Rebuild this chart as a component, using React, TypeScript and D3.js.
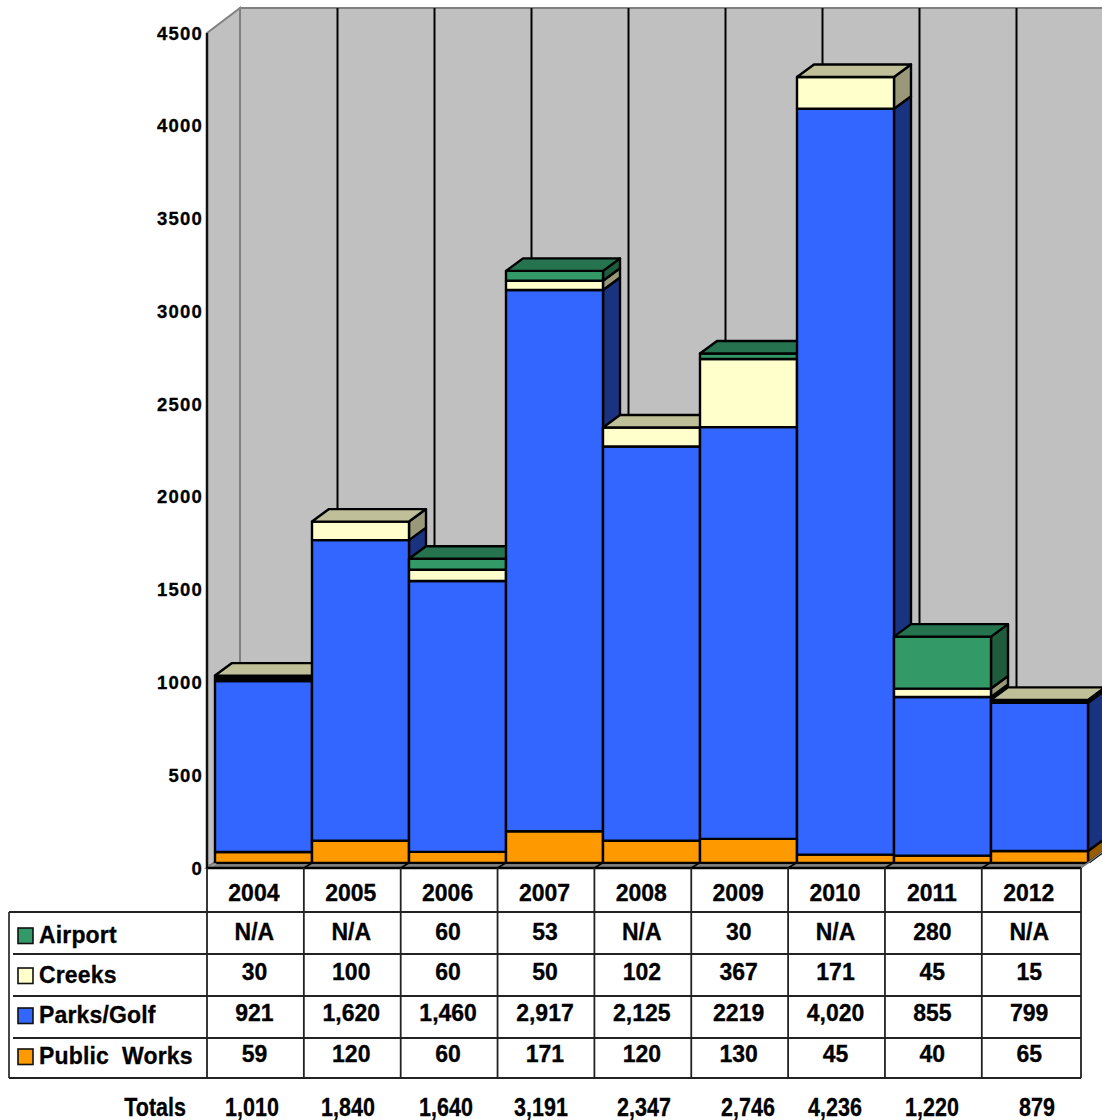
import React from "react";
import * as d3 from "d3";

// Grant spending by program, one stacked column per year.
const years = ["2004", "2005", "2006", "2007", "2008", "2009", "2010", "2011", "2012"];
const publicWorks = [59, 120, 60, 171, 120, 130, 45, 40, 65];
const parksGolf = [921, 1620, 1460, 2917, 2125, 2219, 4020, 855, 799];
const creeks = [30, 100, 60, 50, 102, 367, 171, 45, 15];
const airport = [null, null, 60, 53, null, 30, null, 280, null];
const totals = ["1,010", "1,840", "1,640", "3,191", "2,347", "2,746", "4,236", "1,220", "879"];
const yTicks = [0, 500, 1000, 1500, 2000, 2500, 3000, 3500, 4000, 4500];

const tableRows = [
  { name: "Airport", fill: "#339966", cells: ["N/A", "N/A", "60", "53", "N/A", "30", "N/A", "280", "N/A"] },
  { name: "Creeks", fill: "#FFFFCC", cells: ["30", "100", "60", "50", "102", "367", "171", "45", "15"] },
  { name: "Parks/Golf", fill: "#3366FF", cells: ["921", "1,620", "1,460", "2,917", "2,125", "2219", "4,020", "855", "799"] },
  { name: "Public  Works", fill: "#FF9900", cells: ["59", "120", "60", "171", "120", "130", "45", "40", "65"] },
];

const stackOrder = [
  { values: publicWorks, fill: "#FF9900", side: "#995C00", top: "#BF7300" },
  { values: parksGolf, fill: "#3366FF", side: "#1A3380", top: "#264DBF" },
  { values: creeks, fill: "#FFFFCC", side: "#99997A", top: "#BFBF99" },
  { values: airport, fill: "#339966", side: "#1F5C3D", top: "#267350" },
];

// Slivers this thin render as solid outline.
const solidBelow = 31;
const solidSeries = creeks;

const W = 1102;
const H = 1120;
const frontLeft = 207;
const frontRight = 1081;
const floorY = 868;
const plotTop = 33;
const wallDx = 33;
const wallDy = 25;
const barInsetX = 8;
const barInsetY = 5;
const barDx = 17;
const barDy = 12.5;
const rowLines = [912, 954, 996, 1038, 1078];
const rowBaselines = [940, 980, 1021, 1062];
const legendBaselines = [943, 983, 1023, 1064];
const legendKeys = [928, 968, 1008, 1049];
const totalCenters = [252, 348, 446, 541, 644, 748, 835, 932, 1037];
const font = "'Liberation Sans', Arial, sans-serif";

const yAxis = d3.scaleLinear().domain([0, 4500]).range([floorY, plotTop]);
const barX = d3.scaleBand<string>().domain(years).range([frontLeft + barInsetX, frontLeft + barInsetX + 97 * 9]);
const wallX = d3.scaleBand<string>().domain(years).range([frontLeft + wallDx, frontLeft + wallDx + 97 * 9]);
const colX = d3.scaleLinear().domain([0, 9]).range([frontLeft, frontLeft + 96.85 * 9]);
const barY = (v: number) => yAxis(v) - barInsetY;
const poly = (pts: number[][]) => pts.map((p) => p.join(",")).join(" ");

function Column({ index }: { index: number }) {
  const x0 = barX(years[index]) as number;
  const x1 = x0 + barX.bandwidth();
  let base = 0;
  const segments = stackOrder
    .filter((s) => s.values[index] != null)
    .map((s) => {
      const v = s.values[index] as number;
      const seg = { ...s, y0: barY(base), y1: barY(base + v), v };
      base += v;
      return seg;
    });
  const last = segments[segments.length - 1];
  const line = { stroke: "#000", strokeWidth: 2.4, strokeLinejoin: "round" as const };
  return (
    <g>
      {segments.map((s, i) => {
        const solid = s.values === solidSeries && s.v < solidBelow;
        return (
          <g key={i}>
            <polygon
              points={poly([[x1, s.y0], [x1 + barDx, s.y0 - barDy], [x1 + barDx, s.y1 - barDy], [x1, s.y1]])}
              fill={solid ? "#000" : s.side}
              {...line}
            />
            <rect x={x0} y={s.y1} width={x1 - x0} height={s.y0 - s.y1} fill={solid ? "#000" : s.fill} {...line} />
          </g>
        );
      })}
      <polygon
        points={poly([[x0, last.y1], [x0 + barDx, last.y1 - barDy], [x1 + barDx, last.y1 - barDy], [x1, last.y1]])}
        fill={last.top}
        {...line}
      />
    </g>
  );
}

export default function App() {
  const boldText = { fontFamily: font, fontWeight: 700, fill: "#000", stroke: "#000", strokeWidth: 0.3 };
  return (
    <svg width={W} height={H} viewBox={`0 0 ${W} ${H}`} style={{ position: "absolute", left: 0, top: 0, display: "block" }}>
      <rect width={W} height={H} fill="#fff" />

      {/* walls and floor */}
      <polygon
        points={poly([[frontLeft, plotTop], [frontLeft + wallDx, plotTop - wallDy], [frontLeft + wallDx, floorY - wallDy], [frontLeft, floorY]])}
        fill="#C0C0C0"
        stroke="#808080"
        strokeWidth={2}
      />
      <rect x={frontLeft + wallDx} y={plotTop - wallDy} width={frontRight - frontLeft} height={floorY - plotTop} fill="#C0C0C0" stroke="#808080" strokeWidth={2} />
      <polygon
        points={poly([[frontLeft, floorY], [frontLeft + wallDx, floorY - wallDy], [frontRight + wallDx, floorY - wallDy], [frontRight, floorY]])}
        fill="#808080"
        stroke="#808080"
        strokeWidth={2}
      />
      {years.slice(1).map((y) => {
        const x = wallX(y) as number;
        return <line key={y} x1={x + 0.5} x2={x + 0.5} y1={plotTop - wallDy} y2={floorY - wallDy} stroke="#000" strokeWidth={2} />;
      })}
      <line x1={frontLeft} x2={frontLeft} y1={plotTop} y2={floorY} stroke="#111" strokeWidth={2.5} />

      {years.map((y, i) => (
        <Column key={y} index={i} />
      ))}

      {/* floor strip in front of the columns */}
      <rect x={frontLeft + 1} y={barY(0) + 1.2} width={frontRight - frontLeft} height={floorY - barY(0) - 1.2} fill="#808080" />
      <polygon points={poly([[frontLeft + 1, floorY], [frontLeft + barInsetX, barY(0)], [frontLeft + barInsetX + 2, barY(0) + 1], [frontLeft + 2, floorY]])} fill="#A6A6A6" />
      {d3.range(1, 9).map((i) => (
        <line key={i} x1={colX(i)} x2={colX(i) + barInsetX} y1={floorY} y2={barY(0)} stroke="#000" strokeWidth={1.5} />
      ))}
      <polygon points={poly([[frontRight, floorY], [frontRight + barInsetX, barY(0)], [W, barY(0)], [W, floorY]])} fill="#fff" />
      <line x1={frontRight} x2={frontRight + wallDx} y1={floorY} y2={floorY - wallDy} stroke="#808080" strokeWidth={1.5} />

      {/* value axis labels */}
      {yTicks.map((t) => (
        <text key={t} x={203} y={yAxis(t) + 6.5} textAnchor="end" fontSize={18.5} style={{ letterSpacing: "1.2px" }} {...boldText}>
          {t}
        </text>
      ))}

      {/* data table grid */}
      <line x1={frontLeft} x2={frontRight} y1={floorY} y2={floorY} stroke="#000" strokeWidth={2.5} />
      {d3.range(0, 10).map((i) => {
        const x = i === 9 ? frontRight : colX(i);
        return <line key={i} x1={x} x2={x} y1={floorY} y2={rowLines[4]} stroke="#222" strokeWidth={1.8} />;
      })}
      <line x1={9} x2={9} y1={rowLines[0]} y2={rowLines[4]} stroke="#333" strokeWidth={1.8} />
      {rowLines.map((y, i) => (
        <line key={y} x1={i === 0 || i === 4 ? 9 : 13} x2={frontRight} y1={y} y2={y} stroke="#222" strokeWidth={1.8} />
      ))}

      {years.map((y, i) => (
        <text key={y} x={(colX(i) + colX(i + 1)) / 2 - 1.5} y={901} textAnchor="middle" fontSize={23} {...boldText}>
          {y}
        </text>
      ))}

      {tableRows.map((row, r) => (
        <g key={row.name}>
          <rect x={18} y={legendKeys[r]} width={15} height={15.5} fill={row.fill} stroke="#111" strokeWidth={1.6} />
          <text x={39} y={legendBaselines[r]} fontSize={23} style={{ whiteSpace: "pre", letterSpacing: "0.15px" }} {...boldText}>
            {row.name}
          </text>
          {row.cells.map((c, i) => (
            <text key={i} x={(colX(i) + colX(i + 1)) / 2 - 1} y={rowBaselines[r]} textAnchor="middle" fontSize={23} {...boldText}>
              {c}
            </text>
          ))}
        </g>
      ))}

      {/* totals, set in a condensed cut */}
      <g>
        <text transform={`translate(186,${1116}) scale(0.86,1)`} textAnchor="end" fontSize={25} {...boldText}>
          Totals
        </text>
        {totals.map((t, i) => (
          <text key={i} transform={`translate(${totalCenters[i]},${1116}) scale(0.86,1)`} textAnchor="middle" fontSize={25} {...boldText}>
            {t}
          </text>
        ))}
      </g>
    </svg>
  );
}
